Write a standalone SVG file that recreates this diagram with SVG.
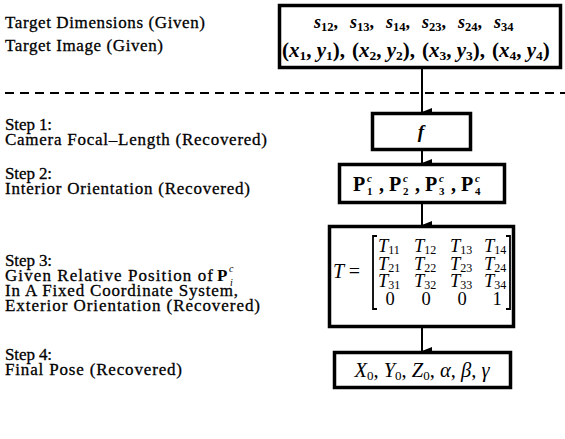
<svg xmlns="http://www.w3.org/2000/svg" width="565" height="439" viewBox="0 0 565 439">
<defs>
<marker id="ah" markerUnits="userSpaceOnUse" markerWidth="8" markerHeight="10" viewBox="0 0 8 10" refX="4" refY="10" orient="auto-start-reverse">
<path d="M0,0 L8,0 L4,10 Z" fill="#000"/>
</marker>
</defs>
<style>
.lbl{font-family:"Liberation Serif","Times New Roman",serif;font-size:17px;fill:#000;stroke:#000;stroke-width:0.3}
.m{font-family:"Liberation Serif","Times New Roman",serif;font-style:italic;fill:#000}
.r{font-family:"Liberation Serif","Times New Roman",serif;fill:#000}
.n{font-style:normal}
.box{fill:#fff;stroke:#000;stroke-width:3.5}
.conn{stroke:#000;stroke-width:2;fill:none}
</style>
<rect width="565" height="439" fill="#fff"/>

<g id="labels">
<text class="lbl" x="5" y="28" textLength="200">Target Dimensions (Given)</text>
<text class="lbl" x="5" y="51" textLength="158">Target Image (Given)</text>
<text class="lbl" x="5" y="130" textLength="47">Step 1:</text>
<text class="lbl" x="5" y="145" textLength="262">Camera Focal–Length (Recovered)</text>
<text class="lbl" x="5" y="179" textLength="47">Step 2:</text>
<text class="lbl" x="5" y="194" textLength="245">Interior Orientation (Recovered)</text>
<text class="lbl" x="5" y="266" textLength="47">Step 3:</text>
<text class="lbl" x="5" y="281" textLength="208">Given Relative Position of</text>
<text class="r" x="217" y="281" font-size="17" font-weight="bold">P</text>
<text class="m" x="229" y="272" font-size="10">c</text>
<text class="m" x="230" y="286" font-size="10">i</text>
<text class="lbl" x="5" y="296" textLength="233">In A Fixed Coordinate System,</text>
<text class="lbl" x="5" y="311" textLength="255">Exterior Orientation (Recovered)</text>
<text class="lbl" x="5" y="360" textLength="47">Step 4:</text>
<text class="lbl" x="5" y="375" textLength="177">Final Pose (Recovered)</text>
</g>

<line id="divider" x1="5" y1="93" x2="565" y2="93" stroke="#000" stroke-width="2" stroke-dasharray="9 6"/>

<g id="connectors">
<line class="conn" x1="422" y1="68" x2="422" y2="112" marker-end="url(#ah)"/>
<line class="conn" x1="422" y1="150" x2="422" y2="163" marker-end="url(#ah)"/>
<line class="conn" x1="422" y1="203" x2="422" y2="225" marker-end="url(#ah)"/>
<line class="conn" x1="422" y1="327" x2="422" y2="351" marker-end="url(#ah)"/>
</g>

<g id="node-given">
<rect class="box" x="279.5" y="5.5" width="281" height="62"/>
<g class="m" font-size="18" font-weight="bold">
<text x="314" y="28">s<tspan class="n" font-size="12.5" dy="3">12</tspan><tspan class="n" dy="-3">,</tspan></text>
<text x="350" y="28">s<tspan class="n" font-size="12.5" dy="3">13</tspan><tspan class="n" dy="-3">,</tspan></text>
<text x="386" y="28">s<tspan class="n" font-size="12.5" dy="3">14</tspan><tspan class="n" dy="-3">,</tspan></text>
<text x="422" y="28">s<tspan class="n" font-size="12.5" dy="3">23</tspan><tspan class="n" dy="-3">,</tspan></text>
<text x="458" y="28">s<tspan class="n" font-size="12.5" dy="3">24</tspan><tspan class="n" dy="-3">,</tspan></text>
<text x="494" y="28">s<tspan class="n" font-size="12.5" dy="3">34</tspan></text>
</g>
<g class="m" font-size="21" font-weight="bold">
<text x="282" y="57"><tspan class="n">(</tspan>x<tspan class="n" font-size="13.5" dy="3">1</tspan><tspan class="n" dy="-3">, </tspan>y<tspan class="n" font-size="13.5" dy="3">1</tspan><tspan class="n" dy="-3">),</tspan></text>
<text x="352" y="57"><tspan class="n">(</tspan>x<tspan class="n" font-size="13.5" dy="3">2</tspan><tspan class="n" dy="-3">, </tspan>y<tspan class="n" font-size="13.5" dy="3">2</tspan><tspan class="n" dy="-3">),</tspan></text>
<text x="422" y="57"><tspan class="n">(</tspan>x<tspan class="n" font-size="13.5" dy="3">3</tspan><tspan class="n" dy="-3">, </tspan>y<tspan class="n" font-size="13.5" dy="3">3</tspan><tspan class="n" dy="-3">),</tspan></text>
<text x="492" y="57"><tspan class="n">(</tspan>x<tspan class="n" font-size="13.5" dy="3">4</tspan><tspan class="n" dy="-3">, </tspan>y<tspan class="n" font-size="13.5" dy="3">4</tspan><tspan class="n" dy="-3">)</tspan></text>
</g>
</g>

<g id="node-f">
<rect class="box" x="372.5" y="113.5" width="98" height="36" stroke-width="3"/>
<text class="m" x="421" y="138" font-size="19" font-weight="bold" text-anchor="middle">f</text>
</g>

<g id="node-p">
<rect class="box" x="339.5" y="164.5" width="165" height="38" stroke-width="3"/>
<g class="r" font-size="20" font-weight="bold">
<text x="353" y="191">P</text><text x="379" y="191">,</text>
<text x="389" y="191">P</text><text x="415" y="191">,</text>
<text x="425" y="191">P</text><text x="451" y="191">,</text>
<text x="461" y="191">P</text>
</g>
<g class="m" font-size="11" font-weight="bold">
<text x="367" y="182">c</text><text x="403" y="182">c</text><text x="439" y="182">c</text><text x="475" y="182">c</text>
</g>
<g class="r" font-size="11" font-weight="bold">
<text x="367" y="195">1</text><text x="403" y="195">2</text><text x="439" y="195">3</text><text x="475" y="195">4</text>
</g>
</g>

<g id="node-t">
<rect class="box" x="329.5" y="226.5" width="184" height="100"/>
<text class="m" x="333" y="278" font-size="20">T <tspan class="n">=</tspan></text>
<path d="M377,236 h-4 v73 h4 M506,236 h4 v73 h-4" fill="none" stroke="#000" stroke-width="1.8"/>
<g class="m" font-size="18.5">
<text x="378" y="252">T<tspan class="n" font-size="12" dy="2">11</tspan></text>
<text x="414" y="252">T<tspan class="n" font-size="12" dy="2">12</tspan></text>
<text x="450" y="252">T<tspan class="n" font-size="12" dy="2">13</tspan></text>
<text x="484" y="252">T<tspan class="n" font-size="12" dy="2">14</tspan></text>
<text x="378" y="269.5">T<tspan class="n" font-size="12" dy="2">21</tspan></text>
<text x="414" y="269.5">T<tspan class="n" font-size="12" dy="2">22</tspan></text>
<text x="450" y="269.5">T<tspan class="n" font-size="12" dy="2">23</tspan></text>
<text x="484" y="269.5">T<tspan class="n" font-size="12" dy="2">24</tspan></text>
<text x="378" y="287">T<tspan class="n" font-size="12" dy="2">31</tspan></text>
<text x="414" y="287">T<tspan class="n" font-size="12" dy="2">32</tspan></text>
<text x="450" y="287">T<tspan class="n" font-size="12" dy="2">33</tspan></text>
<text x="484" y="287">T<tspan class="n" font-size="12" dy="2">34</tspan></text>
</g>
<g class="r" font-size="18.5" text-anchor="middle">
<text x="390" y="305">0</text><text x="426" y="305">0</text><text x="462" y="305">0</text><text x="497" y="305">1</text>
</g>
</g>

<g id="node-pose">
<rect class="box" x="334.5" y="352.5" width="176" height="35" stroke-width="3"/>
<text class="m" x="422" y="377" font-size="20.5" text-anchor="middle">X<tspan class="n" font-size="13" dy="3">0</tspan><tspan class="n" dy="-3">, </tspan>Y<tspan class="n" font-size="13" dy="3">0</tspan><tspan class="n" dy="-3">, </tspan>Z<tspan class="n" font-size="13" dy="3">0</tspan><tspan class="n" dy="-3">, </tspan>α<tspan class="n">, </tspan>β<tspan class="n">, </tspan>γ</text>
</g>
</svg>
